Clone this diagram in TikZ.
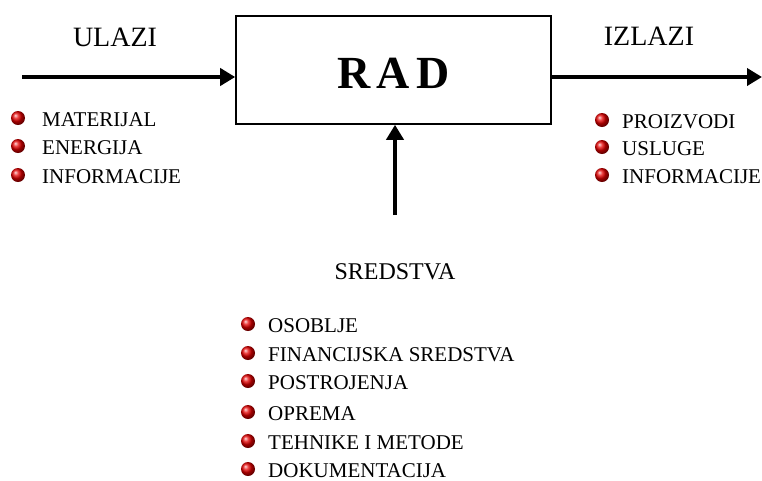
\documentclass[tikz,border=0pt]{standalone}
\usepackage{fontspec}
\setmainfont{Liberation Serif}
\usetikzlibrary{positioning}
\usetikzlibrary{arrows.meta}

\begin{document}
\begin{tikzpicture}
    [x=1pt,y=-1pt,every node/.style={inner sep=0pt},
     >={Triangle[length=15pt,width=17pt]}]

    \tikzstyle{ball}  = [circle,minimum size=14pt,shading=ball,ball color=red!90!black]
    \tikzstyle{item}  = [anchor=base west,font=\fontsize{21}{25}\selectfont]
    \tikzstyle{title} = [anchor=base,font=\fontsize{28}{32}\selectfont]
    \tikzstyle{flow}  = [->,line width=4.5pt]

    \useasboundingbox (0,0) rectangle (762,480);

    \node [draw,line width=1.6pt,minimum width=315pt,minimum height=108pt,
           text height=36pt,text depth=0pt,font=\fontsize{46}{50}\selectfont\bfseries]
          (rad) at (393.5,70) {R\kern6pt A\kern6pt D} ;

    \coordinate (in)  at (22,77) ;
    \coordinate (out) at (762,77) ;
    \coordinate (res) at (395,215) ;

    \draw [flow] (in) -- (in -| rad.west) ;
    \draw [flow] (rad.east |- out) -- (out) ;
    \draw [flow] (res) -- (res |- rad.south) ;

    \node [title] (ulazi)  at (115,46) {ULAZI} ;
    \node [title] (izlazi) at (649,45) {IZLAZI} ;
    \node [title,font=\fontsize{24}{28}\selectfont] (sredstva) at (395,279) {SREDSTVA} ;

    % ulazi
    \foreach \t/\y [count=\i] in {MATERIJAL/126,ENERGIJA/154,INFORMACIJE/183} {
        \node [ball] (ub\i) at (18,\y-8) {} ;
        \node [item] (u\i) at (42,\y) {\t} ;
    }

    % izlazi
    \foreach \t/\y [count=\i] in {PROIZVODI/128,USLUGE/155,INFORMACIJE/183} {
        \node [ball] (ib\i) at (602,\y-8) {} ;
        \node [item] (i\i) at (622,\y) {\t} ;
    }

    % sredstva
    \foreach \t/\y [count=\i] in {OSOBLJE/332,FINANCIJSKA SREDSTVA/361,POSTROJENJA/389,
                                  OPREMA/420,TEHNIKE I METODE/449,DOKUMENTACIJA/477} {
        \node [ball] (sb\i) at (248,\y-8) {} ;
        \node [item] (s\i) at (268,\y) {\t} ;
    }
\end{tikzpicture}
\end{document}
